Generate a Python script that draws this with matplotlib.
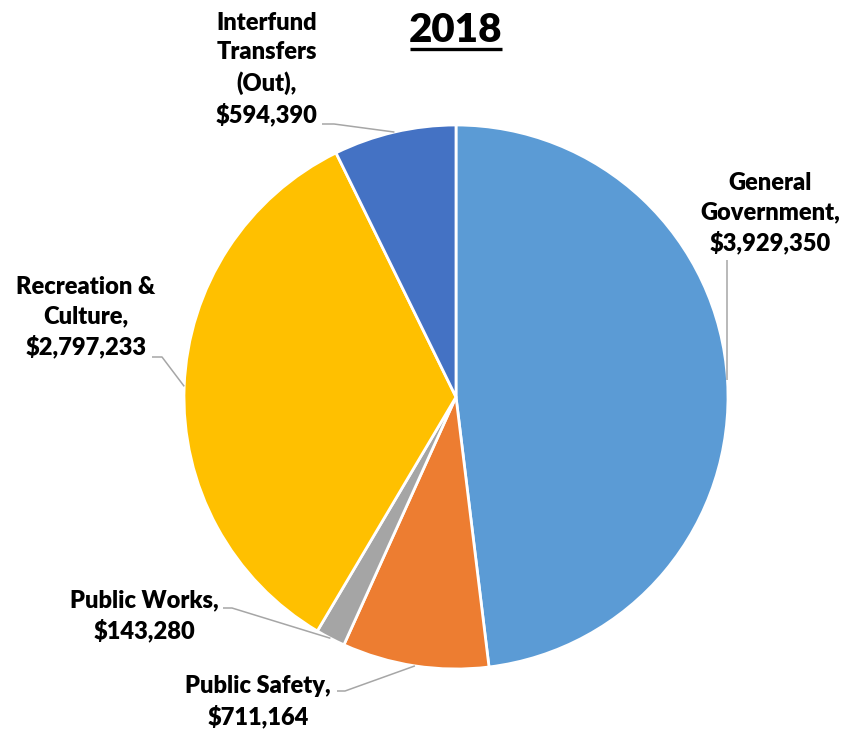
import matplotlib
matplotlib.use("Agg")
import matplotlib.pyplot as plt
import numpy as np

# data, clockwise from the top
categories = ["General\nGovernment,", "Public Safety,", "Public Works,",
              "Recreation &\nCulture,", "Interfund\nTransfers\n(Out),"]
values = [3929350, 711164, 143280, 2797233, 594390]
colors = ["#5B9BD5", "#ED7D31", "#A5A5A5", "#FFC000", "#4472C4"]
title = "2018"

W, H = 848, 734
CX, CY, R = 456, 397, 272  # pie centre / radius in px (y from top)

# label layout in px: text centre, leader start, elbow
label_pos = [(770, 213), (258, 702), (144, 616), (86, 317), (267, 69)]
leader_start = [None, (337, 691), (223, 608), (152, 357), (322, 124)]
leader_elbow = [None, (345, 691), (232, 608), (162, 357), (334, 124)]
gg_leader_top = 260

plt.rcParams['font.family'] = ['Lato', 'DejaVu Sans']

fig = plt.figure(figsize=(W / 100, H / 100), dpi=100)
ax = fig.add_axes([0, 0, 1, 1])


def py(y):
    return H - y


wedges, _ = ax.pie(values, colors=colors, startangle=90, counterclock=False,
                   center=(CX, py(CY)), radius=R, frame=True,
                   wedgeprops=dict(edgecolor='white', linewidth=2))
ax.set_xlim(0, W)
ax.set_ylim(0, H)
ax.set_aspect('equal')
ax.axis('off')

line_kw = dict(color='#A6A6A6', lw=1.1, solid_capstyle='butt')
for i, w in enumerate(wedges):
    mid = np.deg2rad((w.theta1 + w.theta2) / 2)
    ex = CX + R * np.cos(mid)
    ey = py(CY) + R * np.sin(mid)
    txt = f"{categories[i]}\n${values[i]:,}"
    lx, ly = label_pos[i]
    ax.text(lx, py(ly), txt, ha='center', va='center', fontsize=17,
            fontweight='heavy', linespacing=1.4, color='black')
    if leader_start[i] is None:
        ax.plot([ex, ex], [py(gg_leader_top), ey], **line_kw)
    else:
        sx, sy = leader_start[i]
        kx, ky = leader_elbow[i]
        ax.plot([sx, kx, ex], [py(sy), py(ky), ey], **line_kw)

t = ax.text(CX, py(30), title, ha='center', va='center', fontsize=29,
            fontweight='heavy', color='black')
fig.canvas.draw()
bb = t.get_window_extent().transformed(ax.transData.inverted())
ax.plot([bb.x0 + 1, bb.x1 - 1], [py(49), py(49)], color='black', lw=2.4,
        solid_capstyle='butt')

fig.savefig("out.png", dpi=100)
